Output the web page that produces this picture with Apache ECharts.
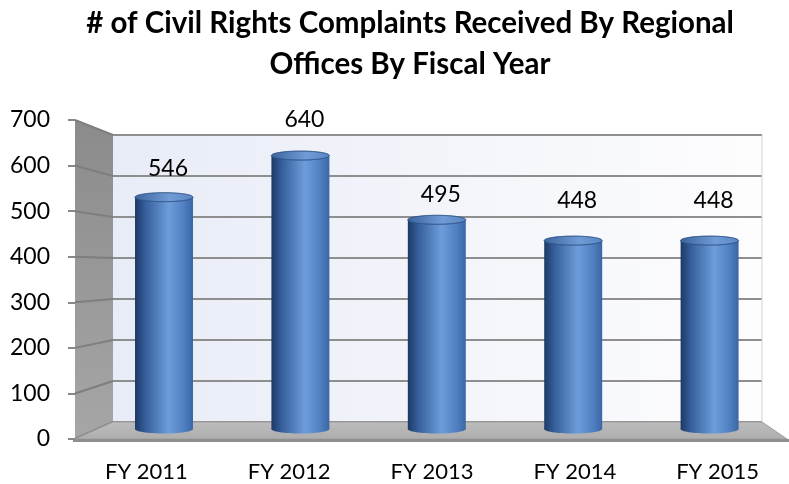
<!DOCTYPE html>
<html>
<head>
<meta charset="utf-8">
<script src="https://cdn.jsdelivr.net/npm/echarts@6/dist/echarts.min.js"></script>
<style>html,body{margin:0;padding:0;background:#fff}#c{width:789px;height:484px}</style>
</head>
<body>
<div id="c"></div>
<script>
const titleText = '# of Civil Rights Complaints Received By Regional\nOffices By Fiscal Year';
const categories = ['FY 2011', 'FY 2012', 'FY 2013', 'FY 2014', 'FY 2015'];
const values = [546, 640, 495, 448, 448];
const yMin = 0, yMax = 700, yStep = 100;
const labelLift = [29, 36, 25, 40, 40];

const FONT = 'Lato, "Open Sans", sans-serif';
const chart = echarts.init(document.getElementById('c'), null, {renderer: 'canvas'});

function renderCyl(params, api) {
  const i = params.dataIndex;
  const v = api.value(1);
  const p = api.coord([api.value(0), v]);
  const base = api.coord([api.value(0), 0]);
  const bw = api.size([1, 0])[0] * 0.425;
  const cx = p[0], topY = p[1], botY = base[1] - 10;
  const rx = bw / 2, ry = 4.5;
  const bodyGrad = new echarts.graphic.LinearGradient(0, 0, 1, 0, [
    {offset: 0, color: '#1c3a66'},
    {offset: 0.18, color: '#365f9b'},
    {offset: 0.58, color: '#6d9dda'},
    {offset: 0.85, color: '#4f7fbf'},
    {offset: 1, color: '#3a66a6'}
  ]);
  const topGrad = new echarts.graphic.LinearGradient(0, 0, 1, 0, [
    {offset: 0, color: '#3d659e'},
    {offset: 0.6, color: '#6f9bd6'},
    {offset: 1, color: '#5a86c4'}
  ]);
  return {
    type: 'group',
    children: [
      {type: 'ellipse', shape: {cx: cx, cy: botY, rx: rx, ry: ry}, style: {fill: bodyGrad}},
      {type: 'rect', shape: {x: cx - rx, y: topY, width: bw, height: botY - topY}, style: {fill: bodyGrad}},
      {type: 'ellipse', shape: {cx: cx, cy: topY, rx: rx, ry: ry}, style: {fill: topGrad, stroke: '#2f5487', lineWidth: 0.6}},
      {type: 'text', style: {text: String(values[i]), x: cx + 4, y: topY - labelLift[i],
        align: 'center', verticalAlign: 'middle', font: '23px ' + FONT, fill: '#000'}}
    ]
  };
}

chart.setOption({
  animation: false,
  backgroundColor: '#fff',
  title: {
    text: titleText,
    left: 410, top: 3, textAlign: 'center', padding: 0,
    textStyle: {fontFamily: FONT, fontWeight: 'bold', fontSize: 29.5, lineHeight: 41, color: '#000'}
  },
  grid: [
    {left: 75, top: 120, width: 720, height: 319},
    {left: 113, top: 135, width: 649, height: 287, show: true, borderWidth: 0,
      backgroundColor: new echarts.graphic.LinearGradient(0, 0, 1, 0, [
        {offset: 0, color: '#e8ecf6'}, {offset: 1, color: '#fdfdfe'}])},
    {left: 95.8, top: 129, width: 682, height: 310}
  ],
  xAxis: [
    {gridIndex: 0, type: 'category', data: categories, axisLine: {show: false}, axisTick: {show: false},
      axisLabel: {margin: 22, fontFamily: FONT, fontSize: 22, color: '#000'}},
    {gridIndex: 1, type: 'category', data: categories, show: false},
    {gridIndex: 2, type: 'category', data: categories, show: false}
  ],
  yAxis: [
    {gridIndex: 0, type: 'value', min: yMin, max: yMax, interval: yStep,
      axisLine: {show: false}, splitLine: {show: false},
      axisTick: {show: true, length: 7, lineStyle: {color: '#888', width: 2}},
      axisLabel: {margin: 25, fontFamily: FONT, fontSize: 23, color: '#000'}},
    {gridIndex: 1, type: 'value', min: yMin, max: yMax, interval: yStep,
      axisLine: {show: false}, axisTick: {show: false}, axisLabel: {show: false},
      splitLine: {show: true, lineStyle: {color: '#8e8e8e', width: 2}}},
    {gridIndex: 2, type: 'value', min: yMin, max: yMax, interval: yStep, show: false}
  ],
  series: [{
    type: 'custom', xAxisIndex: 2, yAxisIndex: 2, z: 10,
    data: values.map((v, i) => [i, v]),
    encode: {x: 0, y: 1},
    renderItem: renderCyl
  }]
});

// 3D decoration (walls, floor) placed via the axes' own scales
const yF = v => chart.convertToPixel({yAxisIndex: 0}, v);
const yB = v => chart.convertToPixel({yAxisIndex: 1}, v);
const xF = 75, xB = 113, xR = 762, xFR = 787;
const els = [];
els.push({type: 'polygon', z: 1, shape: {points: [[xF, yF(yMax)], [xB, yB(yMax)], [xB, yB(yMin)], [xF, yF(yMin)]]},
  style: {fill: new echarts.graphic.LinearGradient(0, 0, 0, 1, [
    {offset: 0, color: '#8b8b8b'}, {offset: 1, color: '#a6a6a6'}])}});
for (let v = yMin; v <= yMax; v += yStep) {
  els.push({type: 'line', z: 2, shape: {x1: xF, y1: yF(v), x2: xB, y2: yB(v)},
    style: {stroke: '#7e7e7e', lineWidth: 2}});
}
els.push({type: 'line', z: 1, shape: {x1: xR, y1: yB(yMax), x2: xR, y2: yB(yMin)}, style: {stroke: '#d4d4d4', lineWidth: 1}});
els.push({type: 'polygon', z: 3, shape: {points: [[xF, yF(0)], [xB, yB(0)], [xR, yB(0)], [xFR, yF(0)]]},
  style: {fill: new echarts.graphic.LinearGradient(0, 0, 0, 1, [
    {offset: 0, color: '#bdbdbd'}, {offset: 1, color: '#adadad'}]), stroke: '#9c9c9c', lineWidth: 1}});
els.push({type: 'rect', z: 3, shape: {x: xF - 2, y: yF(0), width: 789 - xF + 2, height: 3}, style: {fill: '#8f8f8f'}});
chart.setOption({graphic: {elements: els}});
</script>
</body>
</html>
